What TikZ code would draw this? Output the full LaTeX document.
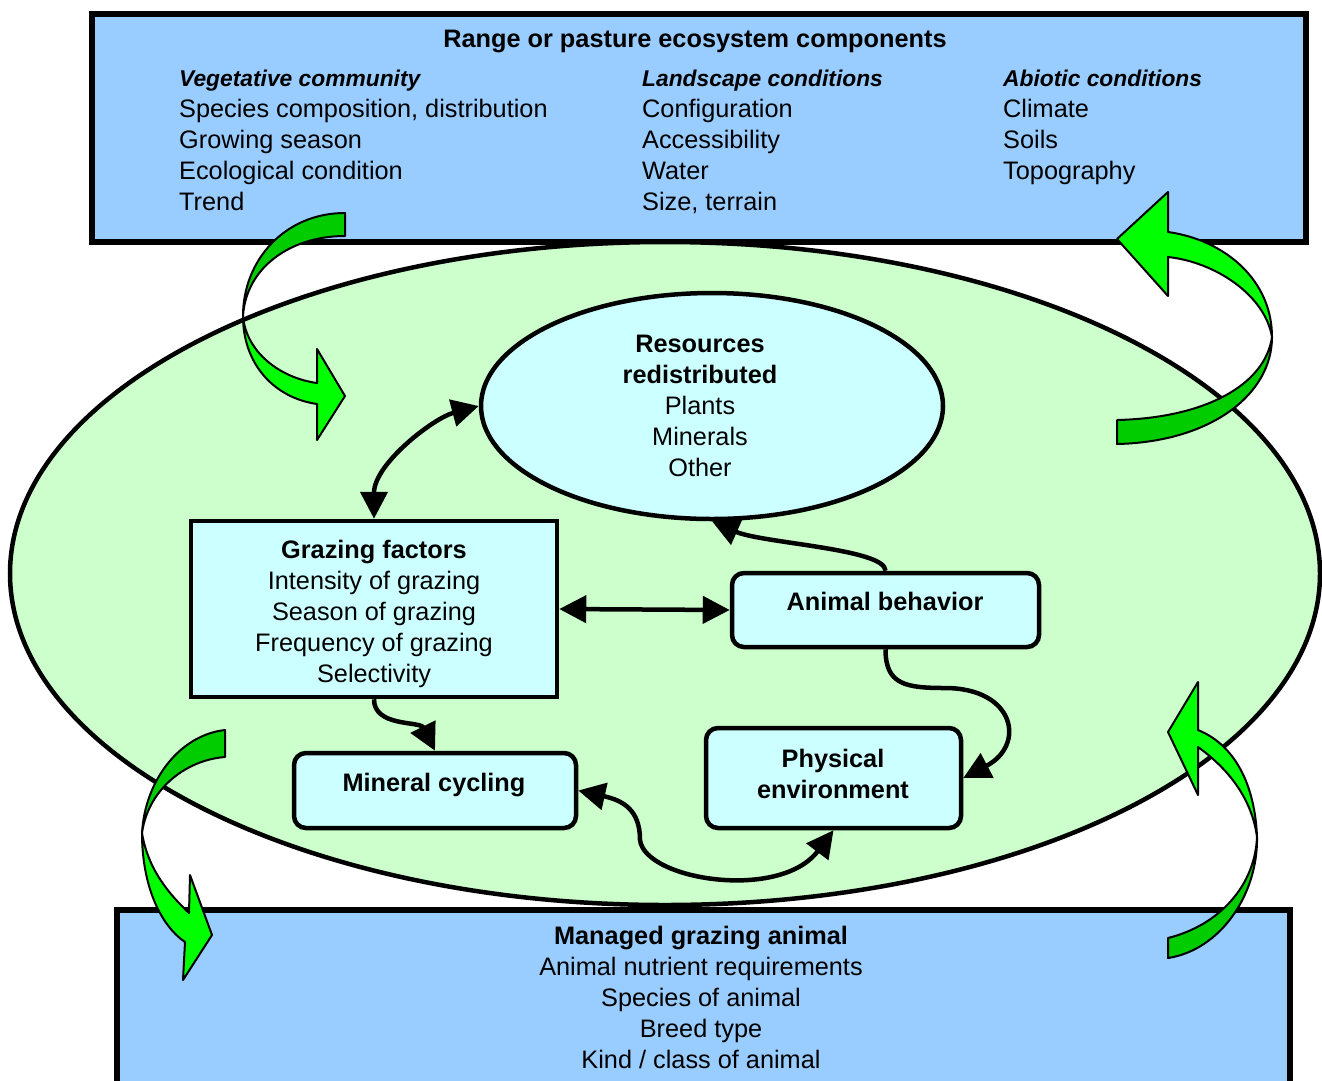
\documentclass[tikz,border=0pt]{standalone}
\usepackage{fontspec}
\setmainfont{Liberation Sans}
\usetikzlibrary{shapes.geometric,arrows.meta}
\definecolor{boxblue}{HTML}{99CCFF}
\definecolor{ecogreen}{HTML}{CCFFCC}
\definecolor{palecyan}{HTML}{CCFFFF}
\definecolor{darkgr}{HTML}{00CC00}
\definecolor{brightgr}{HTML}{00FF00}
\newcommand{\subhead}[1]{{\fontsize{22.8}{31}\selectfont\bfseries\itshape #1}}
\begin{document}
\begin{tikzpicture}[x=1pt,y=-1pt,
  txt/.style={font=\fontsize{25.3}{31}\selectfont, inner sep=0pt, align=center, anchor=north},
  ltxt/.style={font=\fontsize{25.3}{31}\selectfont, inner sep=0pt, align=left, anchor=north west},
  bigbox/.style={draw, rectangle, line width=6pt, fill=boxblue, inner sep=0pt, anchor=north west},
  inbox/.style={draw, rectangle, line width=4.5pt, fill=palecyan, inner sep=0pt},
  rbox/.style={inbox, rounded corners=12pt},
  ovalshape/.style={draw, ellipse, line width=4.5pt, inner sep=0pt},
  conn/.style={line width=4.5pt, -{Triangle[length=27pt,width=27pt]}},
  conntwo/.style={line width=4.5pt, {Triangle[length=27pt,width=27pt]}-{Triangle[length=27pt,width=27pt]}},
  gdark/.style={draw, line width=2pt, fill=darkgr, line join=round},
  gbright/.style={draw, line width=2pt, fill=brightgr, line join=round}
]
\useasboundingbox (0,0) rectangle (1322,1080);

% outer boxes
\node[bigbox, minimum width=1214pt, minimum height=228pt] (top) at (89,11) {};
\node[bigbox, minimum width=1173pt, minimum height=200pt] (bottom) at (114,907) {};

% ecosystem ellipse
\node[ovalshape, fill=ecogreen, minimum width=1310pt, minimum height=663pt] (eco) at (665,573.5) {};

% inner shapes
\node[ovalshape, fill=palecyan, minimum width=462pt, minimum height=226pt] (res) at (712,406) {};
\node[inbox, minimum width=366pt, minimum height=176pt] (gf) at (374,609) {};
\node[rbox, minimum width=307pt, minimum height=74pt] (ab) at (885.5,610) {};
\node[rbox, minimum width=255pt, minimum height=100pt] (pe) at (833.5,778) {};
\node[rbox, minimum width=282pt, minimum height=75pt] (mc) at (435,790.5) {};

% texts
\node[txt] (toptitle) at (695,30) {\bfseries Range or pasture ecosystem components};
\node[ltxt] (veg) at (179,70) {\subhead{Vegetative community}\\Species composition, distribution\\Growing season\\Ecological condition\\Trend};
\node[ltxt] (land) at (642,70) {\subhead{Landscape conditions}\\Configuration\\Accessibility\\Water\\Size, terrain};
\node[ltxt] (abio) at (1003,70) {\subhead{Abiotic conditions}\\Climate\\Soils\\Topography};
\node[txt] (rest) at (700,335) {{\bfseries Resources}\\{\bfseries redistributed}\\Plants\\Minerals\\Other};
\node[txt] (gft) at (374,540) {{\bfseries Grazing factors}\\Intensity of grazing\\Season of grazing\\Frequency of grazing\\Selectivity};
\node[txt] (abt) at (885,592) {\bfseries Animal behavior};
\node[txt] (pet) at (833,749) {{\bfseries Physical}\\{\bfseries environment}};
\node[txt] (mct) at (434,773) {\bfseries Mineral cycling};
\node[txt] (bott) at (701,926) {{\bfseries Managed grazing animal}\\Animal nutrient requirements\\Species of animal\\Breed type\\Kind / class of animal};

% connectors
\draw[conntwo] (res.west) .. controls +(-45,12) and +(0,-55) .. (gf.north);
\draw[conntwo] (gf.east) -- (ab.west);
\draw[conn] (ab.north) .. controls +(0,-22) and +(50,22) .. (res.south);
\draw[conn] (ab.south) .. controls +(0,35) and +(-40,0) .. (945,688) .. controls +(70,0) and +(63,-33) .. (pe.east);
\draw[conn] (gf.south) .. controls +(0,28) and +(-15,-30) .. (mc.north);
\draw[conntwo] (mc.east) .. controls +(45,10) and +(0,-30) .. (640,840) .. controls +(5,40) and +(-53.5,71) .. (pe.south);

% green curved arrows
% top-left
\path[gdark] (345,213) .. controls (285,213) and (243,260) .. (243,316) .. controls (246,268) and (290,236) .. (345,236) -- cycle;
\path[gbright] (243,316) .. controls (243,365) and (275,398) .. (317,404) -- (317,440) -- (345,396) -- (317,349) -- (317,383) .. controls (280,378) and (246,352) .. (243,316) -- cycle;
% top-right
\path[gdark] (1117,420) .. controls (1205,418) and (1265,385) .. (1272,337) .. controls (1272,395) and (1210,442) .. (1117,444) -- cycle;
\path[gbright] (1272,337) .. controls (1272,280) and (1225,240) .. (1168,232) -- (1168,192) -- (1117,239) -- (1168,296) -- (1168,257) .. controls (1215,262) and (1265,295) .. (1272,337) -- cycle;
% bottom-left
\path[gdark] (225,730) .. controls (180,735) and (145,780) .. (142,833) .. controls (148,790) and (185,760) .. (225,757) -- cycle;
\path[gbright] (142,833) .. controls (142,885) and (160,925) .. (185,942) -- (183,980) -- (212,935) -- (190,875) -- (189,913) .. controls (170,895) and (148,870) .. (142,833) -- cycle;
% bottom-right
\path[gdark] (1168,938) .. controls (1220,925) and (1255,885) .. (1257,837) .. controls (1258,895) and (1220,950) .. (1168,958) -- cycle;
\path[gbright] (1257,837) .. controls (1255,785) and (1235,745) .. (1198,730) -- (1198,682) -- (1168,732) -- (1198,795) -- (1198,747) .. controls (1230,770) and (1252,800) .. (1257,837) -- cycle;
\end{tikzpicture}
\end{document}
